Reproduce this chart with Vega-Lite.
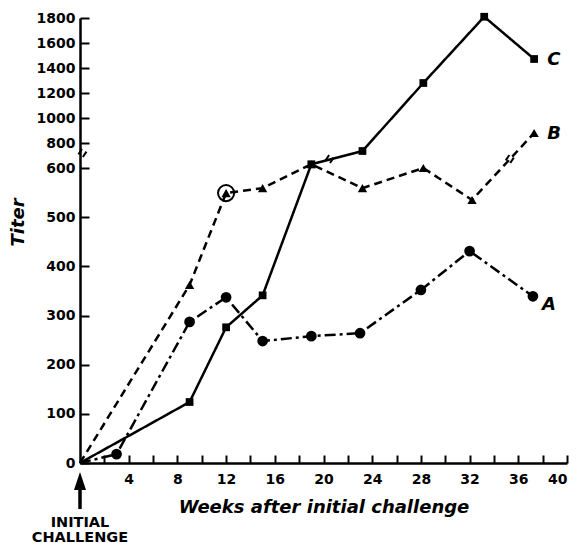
{
  "$schema": "https://vega.github.io/schema/vega-lite/v6.json",
  "width": 487,
  "height": 445,
  "autosize": {"type": "none"},
  "padding": {"left": 80, "top": 18, "right": 11, "bottom": 80},
  "background": "white",
  "config": {
    "view": {"stroke": null},
    "axis": {
      "grid": false,
      "domainColor": "black",
      "domainWidth": 2.5,
      "tickColor": "black",
      "tickWidth": 2,
      "labelFont": "DejaVu Sans",
      "labelFontWeight": "bold",
      "labelFontSize": 14,
      "labelColor": "black",
      "titleFont": "DejaVu Sans",
      "titleFontWeight": "bold",
      "titleFontStyle": "italic",
      "titleFontSize": 18,
      "titleColor": "black"
    }
  },
  "datasets": {
    "titer": [
      {"series": "A", "week": 0, "titer": 0},
      {"series": "A", "week": 3, "titer": 18},
      {"series": "A", "week": 9, "titer": 287},
      {"series": "A", "week": 12, "titer": 337},
      {"series": "A", "week": 15, "titer": 248},
      {"series": "A", "week": 19, "titer": 258},
      {"series": "A", "week": 23, "titer": 264},
      {"series": "A", "week": 28, "titer": 352},
      {"series": "A", "week": 32, "titer": 431},
      {"series": "A", "week": 37.2, "titer": 339},
      {"series": "B", "week": 0, "titer": 0},
      {"series": "B", "week": 9, "titer": 362},
      {"series": "B", "week": 12, "titer": 549},
      {"series": "B", "week": 15, "titer": 559},
      {"series": "B", "week": 19, "titer": 630},
      {"series": "B", "week": 23.2, "titer": 559},
      {"series": "B", "week": 28.2, "titer": 600},
      {"series": "B", "week": 32.2, "titer": 535},
      {"series": "B", "week": 37.3, "titer": 880},
      {"series": "C", "week": 0, "titer": 0},
      {"series": "C", "week": 9, "titer": 124},
      {"series": "C", "week": 12, "titer": 276},
      {"series": "C", "week": 15, "titer": 341},
      {"series": "C", "week": 19, "titer": 630},
      {"series": "C", "week": 23.2, "titer": 736},
      {"series": "C", "week": 28.2, "titer": 1280},
      {"series": "C", "week": 33.2, "titer": 1810},
      {"series": "C", "week": 37.3, "titer": 1472}
    ],
    "breaks": [
      {"week": 0.2, "titer": 720},
      {"week": 20.5, "titer": 672},
      {"week": 35.3, "titer": 672}
    ],
    "circled": [{"week": 12, "titer": 549}],
    "annot": [{"week": 0, "titer": 0, "text": "INITIAL\nCHALLENGE"}]
  },
  "encoding": {
    "x": {
      "field": "week", "type": "quantitative",
      "scale": {"domain": [0, 40], "nice": false},
      "axis": {
        "title": "Weeks after initial challenge",
        "values": [2,4,6,8,10,12,14,16,18,20,22,24,26,28,30,32,34,36,38,40],
        "labelExpr": "datum.value % 4 == 0 ? datum.label : ''",
        "tickSize": -8,
        "labelPadding": 17,
        "titleY": 44,
        "titleBaseline": "middle"
      }
    },
    "y": {
      "field": "titer", "type": "quantitative",
      "scale": {"domain": [0, 600, 1800], "range": [445, 150, 0], "nice": false, "zero": false},
      "axis": {
        "title": "Titer",
        "format": "d",
        "values": [0,100,200,300,400,500,600,800,1000,1200,1400,1600,1800],
        "tickSize": -9,
        "labelPadding": 14,
        "titleX": -62,
        "titleY": 204,
        "titleBaseline": "middle",
        "titleAlign": "center"
      }
    }
  },
  "layer": [
    {
      "data": {"name": "titer"},
      "mark": {"type": "line", "color": "black", "strokeWidth": 2.5},
      "encoding": {
        "detail": {"field": "series"},
        "strokeDash": {
          "field": "series", "type": "nominal",
          "scale": {"domain": ["A", "B", "C"], "range": [[11, 4, 3, 4], [8, 5], [1, 0]]},
          "legend": null
        }
      }
    },
    {
      "data": {"name": "titer"},
      "transform": [{"filter": "datum.week > 0"}],
      "mark": {"type": "point", "filled": true, "color": "black", "opacity": 1},
      "encoding": {
        "shape": {
          "field": "series", "type": "nominal",
          "scale": {"domain": ["A", "B", "C"], "range": ["circle", "triangle-up", "square"]},
          "legend": null
        },
        "size": {
          "field": "series", "type": "nominal",
          "scale": {"domain": ["A", "B", "C"], "range": [115, 60, 135]},
          "legend": null
        }
      }
    },
    {
      "data": {"name": "circled"},
      "mark": {"type": "point", "filled": false, "color": "black", "strokeWidth": 2, "size": 260, "opacity": 1}
    },
    {
      "data": {"name": "breaks"},
      "mark": {"type": "point", "shape": "M-0.9,0.3L-0.1,-0.9M0.1,0.9L0.9,-0.3", "filled": false, "color": "black", "strokeWidth": 2, "size": 80, "opacity": 1}
    },
    {
      "data": {"name": "titer"},
      "transform": [
        {"joinaggregate": [{"op": "max", "field": "week", "as": "maxweek"}], "groupby": ["series"]},
        {"filter": "datum.week == datum.maxweek && datum.series != 'A'"}
      ],
      "mark": {"type": "text", "align": "left", "baseline": "middle", "dx": 13, "dy": 1, "font": "DejaVu Sans", "fontWeight": "bold", "fontStyle": "italic", "fontSize": 18, "color": "black"},
      "encoding": {"text": {"field": "series"}}
    },
    {
      "data": {"name": "titer"},
      "transform": [
        {"joinaggregate": [{"op": "max", "field": "week", "as": "maxweek"}], "groupby": ["series"]},
        {"filter": "datum.week == datum.maxweek && datum.series == 'A'"}
      ],
      "mark": {"type": "text", "align": "left", "baseline": "middle", "dx": 9, "dy": 9, "font": "DejaVu Sans", "fontWeight": "bold", "fontStyle": "italic", "fontSize": 18, "color": "black"},
      "encoding": {"text": {"field": "series"}}
    },
    {
      "data": {"name": "annot"},
      "mark": {"type": "rule", "color": "black", "strokeWidth": 3.5, "strokeCap": "butt", "yOffset": 20, "y2Offset": 46},
      "encoding": {"y2": {"field": "titer"}}
    },
    {
      "data": {"name": "annot"},
      "mark": {"type": "point", "shape": "M0,-1L-0.67,1L0.67,1Z", "filled": true, "color": "black", "size": 324, "yOffset": 18, "opacity": 1}
    },
    {
      "data": {"name": "annot"},
      "mark": {"type": "text", "align": "center", "baseline": "alphabetic", "dy": 64, "lineBreak": "\n", "lineHeight": 14.5, "font": "DejaVu Sans", "fontWeight": "bold", "fontSize": 14.5, "color": "black"},
      "encoding": {"text": {"field": "text"}}
    }
  ]
}
